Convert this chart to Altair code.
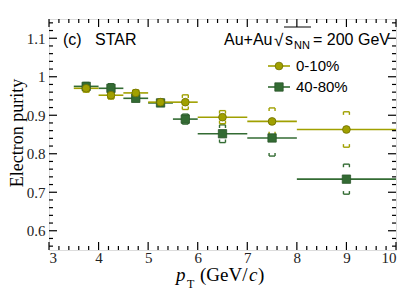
import altair as alt
import pandas as pd
import numpy as np

# ---- data ----
bin_lo = [3.5, 4.0, 4.5, 5.0, 5.5, 6.0, 7.0, 8.0]
bin_hi = [4.0, 4.5, 5.0, 5.5, 6.0, 7.0, 8.0, 10.0]
pt_center = [3.75, 4.25, 4.75, 5.25, 5.75, 6.5, 7.5, 9.0]
purity_0_10 = [0.970, 0.952, 0.958, 0.934, 0.934, 0.895, 0.884, 0.863]
syst_0_10 = [0.010, 0.010, 0.008, 0.008, 0.019, 0.017, 0.035, 0.046]
purity_40_80 = [0.975, 0.970, 0.944, 0.932, 0.890, 0.852, 0.841, 0.734]
syst_40_80 = [0.010, 0.012, 0.008, 0.008, 0.013, 0.023, 0.047, 0.039]
series_names = ["0-10%", "40-80%"]
series_colors = ["#a0a000", "#336b33"]
x_tick_labels = [3, 4, 5, 6, 7, 8, 9, 10]
y_tick_labels = [0.6, 0.7, 0.8, 0.9, 1.0, 1.1]

W, H = 347, 231
XD = [3, 10]
YD = [0.55, 1.15]

rows, brackets = [], []
for name, vals, systs in [("40-80%", purity_40_80, syst_40_80), ("0-10%", purity_0_10, syst_0_10)]:
    for lo, hi, c, v, s in zip(bin_lo, bin_hi, pt_center, vals, systs):
        rows.append(dict(series=name, lo=lo, hi=hi, x=c, y=v))
        w, leg = 0.06, 0.008
        for top, sgn in [(v + s, -1), (v - s, 1)]:
            brackets.append(dict(series=name, x=c - w, x2=c + w, y=top, y2=top))
            brackets.append(dict(series=name, x=c - w, x2=c - w, y=top, y2=top + sgn * leg))
            brackets.append(dict(series=name, x=c + w, x2=c + w, y=top, y2=top + sgn * leg))
df = pd.DataFrame(rows)
bdf = pd.DataFrame(brackets)

xs = alt.Scale(domain=XD, nice=False, zero=False)
ys = alt.Scale(domain=YD, nice=False, zero=False)
cs = alt.Scale(domain=series_names, range=series_colors)

base = alt.Chart(df)

hbar = base.mark_rule(strokeWidth=1.6).encode(
    x=alt.X("lo:Q", scale=xs, axis=alt.Axis(values=x_tick_labels, format="d", domain=False, ticks=False, grid=False,
                                             labelFont="Liberation Serif", labelFontSize=15, labelColor="#222",
                                             labelPadding=0, title=None)),
    x2="hi:Q",
    y=alt.Y("y:Q", scale=ys, axis=alt.Axis(values=y_tick_labels, domain=False, ticks=False, grid=False,
                                            labelExpr="datum.value == 1 ? '1' : format(datum.value, '.1f')",
                                            labelFont="Liberation Serif", labelFontSize=15, labelColor="#222",
                                            labelPadding=4, title=None)),
    color=alt.Color("series:N", scale=cs, legend=None),
)

syst = alt.Chart(bdf).mark_rule(strokeWidth=1.4).encode(
    x=alt.X("x:Q", scale=xs), x2="x2:Q", y=alt.Y("y:Q", scale=ys), y2="y2:Q",
    color=alt.Color("series:N", scale=cs, legend=None),
)

pts_green = alt.Chart(df[df.series == "40-80%"]).mark_point(shape="square", filled=True, size=70, opacity=1,
                                                          stroke="#2a552a", strokeWidth=0.8).encode(
    x=alt.X("x:Q", scale=xs), y=alt.Y("y:Q", scale=ys), color=alt.Color("series:N", scale=cs, legend=None))
pts_olive = alt.Chart(df[df.series == "0-10%"]).mark_point(shape="circle", filled=True, size=60, opacity=1,
                                                         stroke="#6e6e00", strokeWidth=0.8).encode(
    x=alt.X("x:Q", scale=xs), y=alt.Y("y:Q", scale=ys), color=alt.Color("series:N", scale=cs, legend=None))

# ---- inward ticks on all four sides ----
x_major = pd.DataFrame({"v": x_tick_labels})
x_minor = pd.DataFrame({"v": [round(v, 2) for v in np.arange(3, 10.001, 0.2) if abs(v - round(v)) > 1e-6]})
y_major = pd.DataFrame({"v": y_tick_labels})
y_minor = pd.DataFrame({"v": [round(v, 3) for v in np.arange(0.56, 1.15, 0.02) if abs(v * 10 - round(v * 10)) > 1e-6]})


def xt(d, L):
    return [alt.Chart(d).mark_rule(color="black", strokeWidth=1.2).encode(
                x=alt.X("v:Q", scale=xs), y=alt.value(H), y2=alt.value(H - L)),
            alt.Chart(d).mark_rule(color="black", strokeWidth=1.2).encode(
                x=alt.X("v:Q", scale=xs), y=alt.value(0), y2=alt.value(L))]


def yt(d, L):
    return [alt.Chart(d).mark_rule(color="black", strokeWidth=1.2).encode(
                y=alt.Y("v:Q", scale=ys), x=alt.value(0), x2=alt.value(L)),
            alt.Chart(d).mark_rule(color="black", strokeWidth=1.2).encode(
                y=alt.Y("v:Q", scale=ys), x=alt.value(W), x2=alt.value(W - L))]


ticks = xt(x_major, 8) + xt(x_minor, 4) + yt(y_major, 8) + yt(y_minor, 4)

# ---- legend (manual) ----
leg = pd.DataFrame({"series": series_names, "yy": [47, 68]})
leg_line = alt.Chart(leg).mark_rule(strokeWidth=1.6).encode(
    x=alt.value(219), x2=alt.value(241), y=alt.Y("yy:Q", scale=None),
    color=alt.Color("series:N", scale=cs, legend=None))
leg_c = alt.Chart(leg[leg.series == "0-10%"]).mark_point(shape="circle", filled=True, size=60, opacity=1,
                                                        stroke="#6e6e00", strokeWidth=0.8).encode(
    x=alt.value(230), y=alt.Y("yy:Q", scale=None), color=alt.Color("series:N", scale=cs, legend=None))
leg_s = alt.Chart(leg[leg.series == "40-80%"]).mark_point(shape="square", filled=True, size=70, opacity=1,
                                                         stroke="#2a552a", strokeWidth=0.8).encode(
    x=alt.value(230), y=alt.Y("yy:Q", scale=None), color=alt.Color("series:N", scale=cs, legend=None))
leg_t = alt.Chart(leg).mark_text(align="left", baseline="middle", font="Liberation Sans", fontSize=15,
                                 color="black").encode(
    x=alt.value(247), y=alt.Y("yy:Q", scale=None), text="series:N")

# ---- annotations ----
one = pd.DataFrame({"a": [0]})


def txt(s, x, y, size=16, font="Liberation Sans", style="normal", align="left", baseline="alphabetic", angle=0):
    return alt.Chart(one).mark_text(text=s, align=align, baseline=baseline, font=font, fontSize=size,
                                    fontStyle=style, color="black", angle=angle).encode(
        x=alt.value(x), y=alt.value(y))


annots = [
    txt("(c)", 14, 26),
    txt("STAR", 46, 26),
    txt("Au+Au", 175, 26),
    txt("\u221a", 225, 27, size=17),
    txt("s", 236, 26),
    txt("NN", 245, 30, size=11),
    txt("= 200 GeV", 264, 26),
    alt.Chart(one).mark_rule(color="black", strokeWidth=1).encode(x=alt.value(235), x2=alt.value(262),
                                                                 y=alt.value(8)),
    txt("Electron purity", -31, 114, size=18, font="Liberation Serif", align="center", baseline="middle",
        angle=270),
    txt("p", 127, 262, size=19, font="Liberation Serif", style="italic"),
    txt("T", 138, 269, size=12, font="Liberation Serif"),
    txt("(GeV/", 151, 262, size=19, font="Liberation Serif"),
    txt("c", 200, 262, size=19, font="Liberation Serif", style="italic"),
    txt(")", 209, 262, size=19, font="Liberation Serif"),
]

chart = alt.layer(hbar, syst, pts_green, pts_olive, *ticks, leg_line, leg_c, leg_s, leg_t, *annots).properties(
    width=W, height=H,
    autosize=alt.AutoSizeParams(type="none"),
    padding={"left": 41, "top": 11, "right": 7, "bottom": 44},
).configure_view(stroke="black", strokeWidth=1.5).configure(background="white")

chart.save("out.html", embed_options={"renderer": "svg", "actions": False})
